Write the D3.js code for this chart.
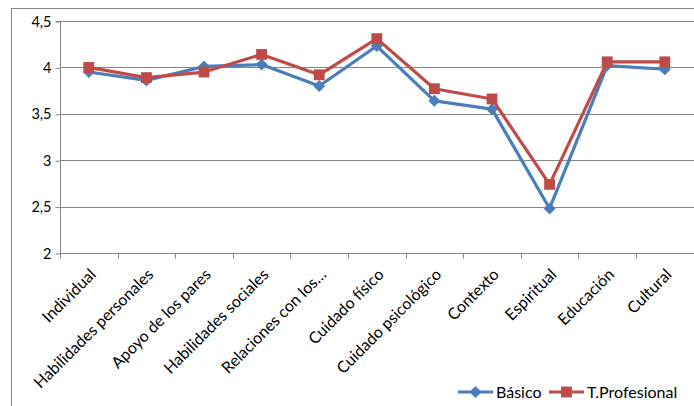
<!DOCTYPE html>
<html>
<head>
<meta charset="utf-8">
<script src="https://cdn.jsdelivr.net/npm/d3@7"></script>
<style>
  html, body { margin: 0; padding: 0; background: #fff; }
  svg { display: block; font-family: Lato, "Open Sans", sans-serif; }
</style>
</head>
<body>
<svg id="chart" width="694" height="406"></svg>
<script>
// Dimensions scored per area, two groups
const categories = [
  "Individual", "Habilidades personales", "Apoyo de los pares", "Habilidades sociales",
  "Relaciones con los…", "Cuidado físico", "Cuidado psicológico", "Contexto",
  "Espiritual", "Educación", "Cultural"
];
const basico       = [3.95, 3.86, 4.01, 4.03, 3.80, 4.23, 3.64, 3.55, 2.48, 4.02, 3.98];
const profesional  = [4.00, 3.89, 3.95, 4.14, 3.92, 4.31, 3.77, 3.66, 2.74, 4.06, 4.06];
const yTicks = [2, 2.5, 3, 3.5, 4, 4.5];
const seriesNames = ["Básico", "T.Profesional"];

const series = [
  { name: seriesNames[0], values: basico, color: "#4A7EBB", marker: "diamond" },
  { name: seriesNames[1], values: profesional, color: "#BE4B48", marker: "square" }
];

const svg = d3.select("#chart");
const plot = { left: 60, top: 21, right: 694, bottom: 253 };

// outer chart frame
svg.append("rect")
  .attr("x", 11.5).attr("y", 8.5)
  .attr("width", 700).attr("height", 420)
  .attr("fill", "none").attr("stroke", "#868686").attr("stroke-width", 1);

const x = d3.scaleBand().domain(categories).range([plot.left, plot.left + 57.6 * categories.length]);
const y = d3.scaleLinear().domain([2, 4.5]).range([plot.bottom, plot.top]);

// horizontal gridlines
svg.append("g").selectAll("line").data(yTicks.slice(1)).join("line")
  .attr("x1", plot.left).attr("x2", plot.right)
  .attr("y1", d => Math.round(y(d)) + 0.5).attr("y2", d => Math.round(y(d)) + 0.5)
  .attr("stroke", "#868686").attr("stroke-width", 1);

// y axis
const yAxis = svg.append("g").attr("transform", `translate(${plot.left + 0.5},0.5)`)
  .call(d3.axisLeft(y).tickValues(yTicks).tickSize(5)
    .tickFormat(d => String(d).replace(".", ",")));
yAxis.select(".domain").attr("stroke", "#868686").attr("d", `M-5,${y(4.5)}H0V${y(2)}`);
yAxis.selectAll(".tick line").attr("stroke", "#868686");
yAxis.selectAll(".tick text").attr("font-size", 14.5).attr("fill", "#000").attr("x", -9)
  .attr("font-family", "Lato, sans-serif");

// x axis with boundary ticks
const xAxisG = svg.append("g").attr("transform", `translate(0,${Math.round(plot.bottom) + 0.5})`);
xAxisG.append("line").attr("x1", plot.left).attr("x2", plot.right)
  .attr("stroke", "#868686");
const bounds = categories.map(c => x(c)).concat([x(categories[categories.length - 1]) + x.bandwidth()]);
xAxisG.selectAll("line.tk").data(bounds).join("line").attr("class", "tk")
  .attr("x1", d => Math.round(d) + 0.5).attr("x2", d => Math.round(d) + 0.5)
  .attr("y1", 0).attr("y2", 5).attr("stroke", "#868686");
xAxisG.selectAll("text").data(categories).join("text")
  .attr("transform", d => `translate(${x(d) + x.bandwidth() / 2 + 8},${22}) rotate(-45)`)
  .attr("text-anchor", "end")
  .attr("font-size", 16)
  .attr("fill", "#000")
  .text(d => d);

// series lines and markers
const line = d3.line().x((d, i) => x(categories[i]) + x.bandwidth() / 2).y(d => y(d));
const markerPath = (type) => type === "diamond"
  ? d3.symbol().type(d3.symbolDiamond2).size(92)()
  : d3.symbol().type(d3.symbolSquare2).size(150)();

series.forEach(s => {
  svg.append("path").datum(s.values)
    .attr("d", line).attr("fill", "none")
    .attr("stroke", s.color).attr("stroke-width", 3.2).attr("stroke-linejoin", "round");
  svg.append("g").selectAll("path").data(s.values).join("path")
    .attr("transform", (d, i) => `translate(${x(categories[i]) + x.bandwidth() / 2},${y(d)})`)
    .attr("d", markerPath(s.marker))
    .attr("fill", s.color);
});

// legend
const legend = svg.append("g").attr("transform", "translate(458,392)");
const legendX = [0, 91];
series.forEach((s, i) => {
  const g = legend.append("g").attr("transform", `translate(${legendX[i]},0)`);
  g.append("line").attr("x1", 0).attr("x2", 35).attr("y1", 0).attr("y2", 0)
    .attr("stroke", s.color).attr("stroke-width", 3);
  g.append("path").attr("transform", "translate(17.5,0)")
    .attr("d", markerPath(s.marker)).attr("fill", s.color);
  g.append("text").attr("x", 38).attr("y", 0).attr("dy", "0.35em")
    .attr("font-size", 16).attr("fill", "#000").text(s.name);
});
</script>
</body>
</html>
